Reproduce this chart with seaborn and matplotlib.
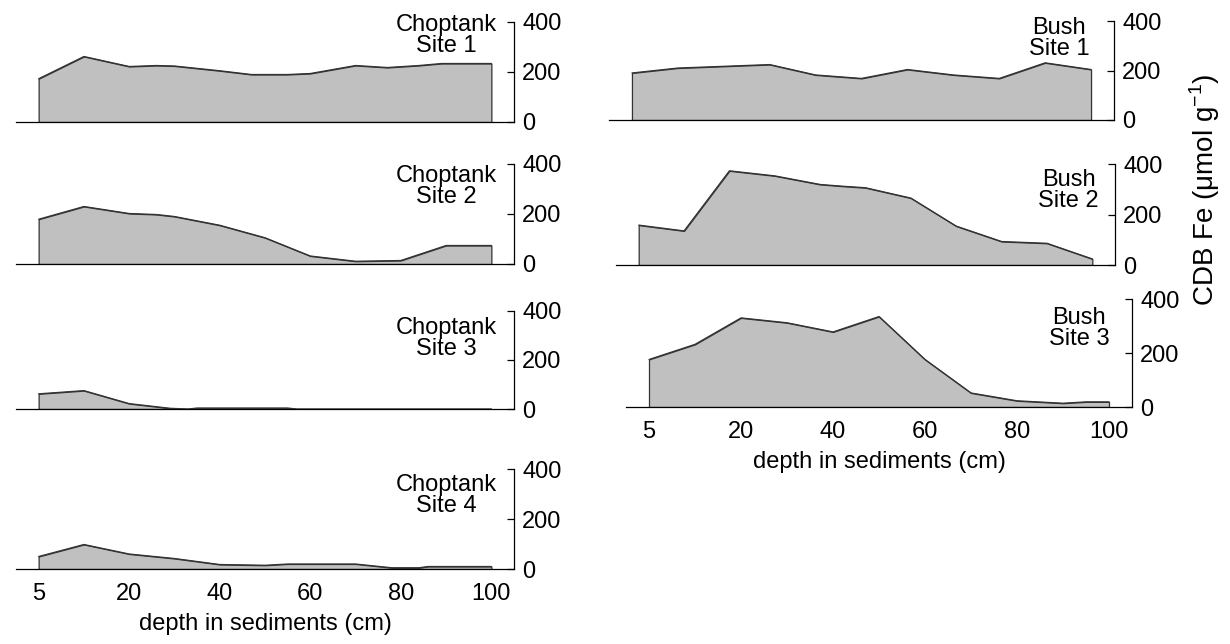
import matplotlib
matplotlib.use("Agg")
import matplotlib.pyplot as plt
import seaborn as sns
import pandas as pd

# x positions (cm grid; position 0 is the 5-cm sample) and CDB Fe values
c1_x = [0, 10, 20, 26, 30, 40, 47, 55, 60, 70, 77, 84, 89, 100]
c1_y = [173, 262, 222, 226, 224, 205, 190, 190, 194, 226, 218, 226, 234, 234]
c2_x = [0, 10, 20, 26, 30, 40, 50, 60, 70, 80, 90, 100]
c2_y = [179, 230, 202, 198, 190, 155, 105, 32, 11, 14, 74, 74]
c3_x = [0, 10, 20, 29, 33, 35, 55, 57, 100]
c3_y = [62, 75, 22, 3, 0, 4, 4, 0, 0]
c4_x = [0, 10, 20, 30, 40, 50, 55, 70, 78, 84, 86, 100]
c4_y = [50, 98, 60, 42, 18, 15, 20, 20, 5, 5, 10, 10]
b1_x = [0, 10, 20, 30, 40, 50, 60, 70, 80, 90, 100]
b1_y = [190, 210, 217, 224, 182, 168, 204, 182, 168, 231, 204]
b2_x = [0, 10, 20, 30, 40, 45, 50, 60, 70, 80, 90, 100]
b2_y = [158, 135, 373, 353, 319, 312, 306, 265, 154, 93, 86, 24]
b3_x = [0, 10, 20, 30, 40, 50, 60, 70, 80, 90, 95, 100]
b3_y = [176, 232, 330, 312, 278, 335, 176, 52, 23, 14, 19, 19]

site_labels = ["Choptank\nSite 1", "Choptank\nSite 2", "Choptank\nSite 3",
               "Choptank\nSite 4", "Bush\nSite 1", "Bush\nSite 2", "Bush\nSite 3"]
xtick_pos = [0, 10, 20, 30, 40, 50, 60, 70, 80, 90, 100]
xtick_labels = ["5", "", "20", "", "40", "", "60", "", "80", "", "100"]
ytick_vals = [0, 200, 400]
xlabel = "depth in sediments (cm)"
ylabel = "CDB Fe (\u03bcmol g$^{-1}$)"

sns.set_theme(style="white")
plt.rcParams["font.family"] = ["Liberation Sans", "DejaVu Sans"]
plt.rcParams["mathtext.fontset"] = "custom"
plt.rcParams["mathtext.rm"] = "Liberation Sans"
for k in ["text.color", "axes.labelcolor", "xtick.color", "ytick.color"]:
    plt.rcParams[k] = "black"

W, H = 1230, 644
fig = plt.figure(figsize=(W / 100, H / 100), dpi=100)

def rect(left, top, bottom, width):
    return [left / W, 1 - bottom / H, width / W, (bottom - top) / H]

panels = [
    (c1_x, c1_y, rect(16, 22, 122, 498), (0.966, 1.085), False),
    (c2_x, c2_y, rect(16, 164, 264, 498), (0.966, 0.99), False),
    (c3_x, c3_y, rect(16, 311, 409, 498), (0.966, 0.94), False),
    (c4_x, c4_y, rect(16, 469, 569, 498), (0.966, 0.95), True),
    (b1_x, b1_y, rect(609, 21, 120, 505), (0.951, 1.04), False),
    (b2_x, b2_y, rect(616, 164, 265, 499), (0.968, 0.95), False),
    (b3_x, b3_y, rect(626, 299, 407, 506), (0.955, 0.93), True),
]

fs = 17
for (xs, ys, r, tpos, bottom), lab in zip(panels, site_labels):
    ax = fig.add_axes(r)
    df = pd.DataFrame({"x": xs, "y": ys})
    ax.fill_between(df["x"], df["y"], 0, facecolor="#c0c0c0",
                    edgecolor="#333333", linewidth=0.9, zorder=2)
    sns.lineplot(data=df, x="x", y="y", ax=ax, color="#333333",
                 linewidth=0.9, zorder=3)
    ax.set_xlim(-5, 105)
    ax.set_ylim(0, 400)
    for s in ["left", "top"]:
        ax.spines[s].set_visible(False)
    for s in ["right", "bottom"]:
        ax.spines[s].set_color("black")
        ax.spines[s].set_linewidth(0.9)
    ax.yaxis.tick_right()
    ax.set_yticks(ytick_vals)
    ax.set_yticklabels([str(v) for v in ytick_vals], fontsize=fs)
    ax.tick_params(axis="y", direction="in", length=5, width=0.9,
                   pad=6, colors="black")
    ax.set_xticks(xtick_pos)
    ax.tick_params(axis="x", direction="out", length=8, width=0.9,
                   colors="black", pad=2)
    if bottom:
        ax.set_xticklabels(xtick_labels, fontsize=fs)
        ax.set_xlabel(xlabel, fontsize=fs, labelpad=6, color="black")
    else:
        ax.set_xticklabels([])
        ax.set_xlabel("")
    ax.set_ylabel("")
    ax.patch.set_alpha(0)
    ax.text(tpos[0], tpos[1], lab, transform=ax.transAxes, ha="right",
            va="top", multialignment="center", fontsize=fs,
            linespacing=0.95, color="black")

fig.text(1205 / W, 1 - 190 / H, ylabel, rotation=90, ha="center",
         va="center", fontsize=20, color="black")

fig.savefig("out.png", dpi=100)
